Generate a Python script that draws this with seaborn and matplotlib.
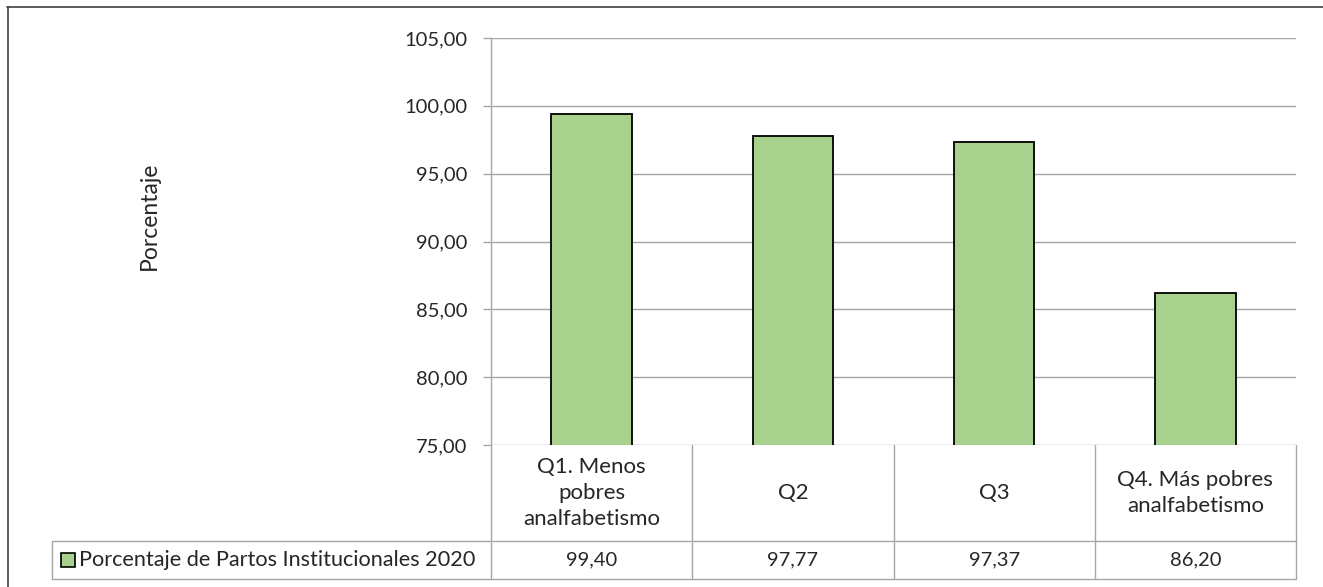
import matplotlib
matplotlib.use("Agg")
import matplotlib.pyplot as plt
import matplotlib.transforms as mtransforms
from matplotlib.lines import Line2D
import seaborn as sns
import pandas as pd

# data
categories = ["Q1. Menos\npobres\nanalfabetismo", "Q2", "Q3", "Q4. Más pobres\nanalfabetismo"]
values = [99.40, 97.77, 97.37, 86.20]
series_name = "Porcentaje de Partos Institucionales 2020"
y_ticks = [75, 80, 85, 90, 95, 100, 105]

bar_color = "#A9D18E"
grid_color = "#A6A6A6"

sns.set_style("white")
plt.rcParams["font.family"] = ["Lato", "DejaVu Sans"]

df = pd.DataFrame({"cat": categories, "val": values})

W, H = 1323, 587
fig = plt.figure(figsize=(W / 100, H / 100), dpi=100)
left, right, top, bottom = 491, 1296, 38, 445
pw, ph = right - left, bottom - top
ax = fig.add_axes([left / W, (H - bottom) / H, pw / W, ph / H])

sns.barplot(data=df, x="cat", y="val", color=bar_color, edgecolor="black",
            linewidth=1.3, width=0.4, saturation=1, ax=ax, zorder=3)

ax.set_ylim(y_ticks[0], y_ticks[-1])
ax.set_xlim(-0.5, len(categories) - 0.5)
ax.set_yticks(y_ticks)
ax.set_yticklabels([f"{t:.2f}".replace(".", ",") for t in y_ticks], fontsize=14.5)
ax.tick_params(axis="y", length=6, width=1, color=grid_color, pad=11, left=True)
ax.tick_params(axis="x", bottom=False, labelbottom=False)
ax.yaxis.grid(True, color=grid_color, linewidth=1)
ax.set_axisbelow(True)
for s in ["top", "right", "bottom"]:
    ax.spines[s].set_visible(False)
ax.spines["left"].set_color(grid_color)
ax.spines["left"].set_linewidth(1)
ax.set_xlabel("")
ax.set_ylabel("Porcentaje", fontsize=16.5)
ax.yaxis.set_label_coords((160 - left) / pw, (bottom - 216) / ph)

# data table under the plot
row1 = (bottom - 541) / ph
row2 = (bottom - 579) / ph
leg_left = (52 - left) / pw
blend = mtransforms.blended_transform_factory(ax.transData, ax.transAxes)
lk = dict(color=grid_color, linewidth=1, clip_on=False)

for i in range(len(categories) + 1):
    ax.plot([i - 0.5, i - 0.5], [0, row2], transform=blend, **lk)
ax.plot([leg_left, 1], [row1, row1], transform=ax.transAxes, **lk)
ax.plot([leg_left, 1], [row2, row2], transform=ax.transAxes, **lk)
ax.plot([leg_left, leg_left], [row1, row2], transform=ax.transAxes, **lk)

for i, (c, v) in enumerate(zip(categories, values)):
    ax.text(i, row1 / 2, c, transform=blend, ha="center", va="center",
            fontsize=16, linespacing=1.35)
    ax.text(i, (row1 + row2) / 2, f"{v:.2f}".replace(".", ","), transform=blend,
            ha="center", va="center", fontsize=14.5)

ymid = (row1 + row2) / 2
ax.plot([(67.5 - left) / pw], [ymid], marker="s", markersize=9.5,
        markerfacecolor=bar_color, markeredgecolor="black", markeredgewidth=1.2,
        transform=ax.transAxes, clip_on=False)
ax.text((79 - left) / pw, ymid, series_name, transform=ax.transAxes,
        ha="left", va="center", fontsize=15.6)

# chart area border (left and top visible, the rest is cut off)
fig.add_artist(Line2D([7.5 / W, 7.5 / W], [0, 1 - 6.5 / H], color="#404040",
                      linewidth=1.2, transform=fig.transFigure))
fig.add_artist(Line2D([7 / W, 1], [1 - 6.5 / H, 1 - 6.5 / H], color="#404040",
                      linewidth=1.2, transform=fig.transFigure))

fig.savefig("out.png", dpi=100)
